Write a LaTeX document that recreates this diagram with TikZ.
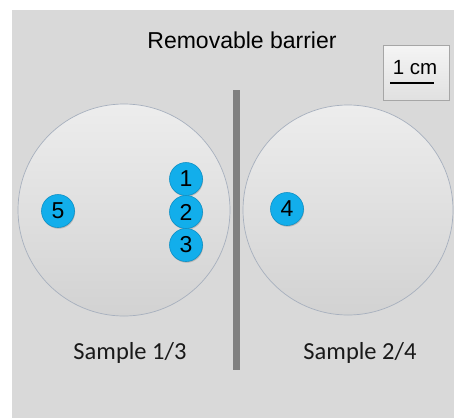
\documentclass[tikz,border=0pt]{standalone}
\usepackage{fontspec}
\setmainfont{Liberation Sans}
\newfontfamily\calib{Carlito}
\usetikzlibrary{shadows}
\definecolor{bg}{HTML}{D9D9D9}
\definecolor{dishedge}{HTML}{A7B0BE}
\definecolor{dishtop}{HTML}{EDEDED}
\definecolor{dishbot}{HTML}{D2D2D2}
\definecolor{spot}{HTML}{12AEEB}
\definecolor{spotedge}{HTML}{0C90C6}
\definecolor{barrier}{HTML}{808080}
\tikzset{
  spotnode/.style={circle, fill=spot, draw=spotedge, line width=0.6pt, minimum size=33pt, inner sep=0pt,
    font=\fontsize{23pt}{23pt}\selectfont, text=black,
    drop shadow={shadow xshift=0.6pt, shadow yshift=-1.2pt, fill=black!45, opacity=0.5}},
  samplelabel/.style={font=\calib\fontsize{24.5pt}{24.5pt}\selectfont, text=black!90, inner sep=0pt},
}
\begin{document}
\begin{tikzpicture}[x=1pt,y=-1pt]
\useasboundingbox (0,0) rectangle (454,418);
\fill[bg] (12,10) rectangle (454,418);
% dishes
\shade[top color=dishtop, bottom color=dishbot] (124,210) circle (106);
\draw[dishedge, line width=0.7pt] (124,210) circle (106);
\shade[top color=dishtop, bottom color=dishbot] (348,210) circle (105);
\draw[dishedge, line width=0.7pt] (348,210) circle (105);
% barrier
\fill[barrier] (233,90) rectangle (240,370);
% title
\node[font=\fontsize{23pt}{23pt}\selectfont, inner sep=0pt] (title) at (242,40) {Removable barrier};
% scale box
\shade[top color=black!4, bottom color=black!12, draw=black!35, line width=0.6pt] (383,45) rectangle (449,100);
\node[font=\fontsize{20.5pt}{20.5pt}\selectfont, inner sep=0pt] (scale) at (415,68) {1 cm};
\coordinate (sl) at (390,83);
\coordinate (sr) at (434,83);
\draw[line width=2pt] (sl) -- (sr);
% spots
\node[spotnode] (s1) at (186,179) {1};
\node[spotnode] (s2) at (186,212) {2};
\node[spotnode] (s3) at (186,245) {3};
\node[spotnode] (s4) at (287,209) {4};
\node[spotnode] (s5) at (58,211) {5};
% labels
\node[samplelabel] (l13) at (130,353) {Sample 1/3};
\node[samplelabel] (l24) at (360,353) {Sample 2/4};
\end{tikzpicture}
\end{document}
